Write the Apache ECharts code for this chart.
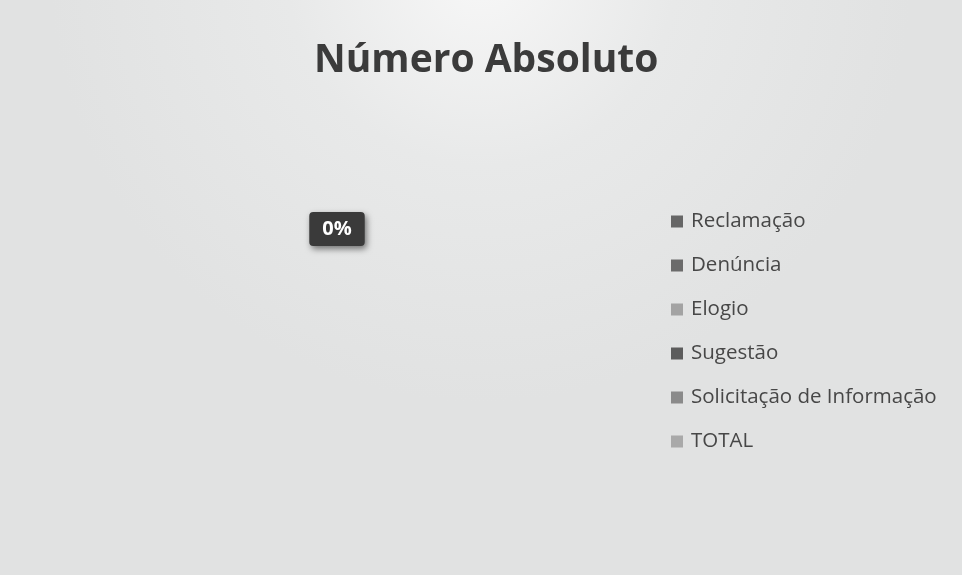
<!DOCTYPE html>
<html>
<head>
<meta charset="utf-8">
<title>Número Absoluto</title>
<script src="https://cdn.jsdelivr.net/npm/echarts@6/dist/echarts.min.js"></script>
<style>
  html, body { margin: 0; padding: 0; background: #e3e4e4; }
  #chart { width: 962px; height: 575px; }
</style>
</head>
<body>
<div id="chart"></div>
<script>
// categorias e valores (todos zerados no original)
var categories = ['Reclamação', 'Denúncia', 'Elogio', 'Sugestão', 'Solicitação de Informação', 'TOTAL'];
var values = [0, 0, 0, 0, 0, 0];
var colors = ['#666666', '#6b6b6b', '#a3a3a3', '#5c5c5c', '#8a8a8a', '#a9a9a9'];

var chartDom = document.getElementById('chart');
var myChart = echarts.init(chartDom);

// somente o primeiro rótulo aparece (os demais ficam sobrepostos)
var pieData = categories.map(function (name, i) {
  var item = { name: name, value: values[i] };
  if (i > 0) item.label = { show: false };
  return item;
});

var option = {
  backgroundColor: new echarts.graphic.RadialGradient(0.5, -0.05, 0.75, [
    { offset: 0, color: '#f7f7f7' },
    { offset: 0.45, color: '#e8e9e9' },
    { offset: 1, color: '#e1e2e2' }
  ]),
  color: colors,
  title: {
    text: 'Número Absoluto',
    left: 314,
    top: 41,
    padding: 0,
    textStyle: {
      fontFamily: 'Open Sans',
      fontSize: 39,
      fontWeight: 'bold',
      color: '#3b3b3b'
    }
  },
  legend: {
    orient: 'vertical',
    left: 671,
    top: 211,
    padding: 0,
    itemWidth: 12,
    itemHeight: 12,
    itemGap: 23,
    icon: 'rect',
    textStyle: {
      fontFamily: 'Open Sans',
      fontSize: 20.5,
      lineHeight: 20,
      color: '#474747',
      padding: [0, 0, 0, 3]
    },
    data: categories
  },
  series: [
    {
      name: 'Número Absoluto',
      type: 'pie',
      center: [337, 304],
      radius: [0, 144],
      startAngle: 90,
      stillShowZeroSum: false,
      showEmptyCircle: false,
      silent: true,
      label: {
        show: true,
        position: 'inside',
        formatter: '{d}%',
        fontFamily: 'Open Sans',
        fontSize: 20,
        fontWeight: 'bold',
        color: '#ffffff',
        backgroundColor: '#3a3a3a',
        borderRadius: 4,
        padding: [7, 13, 7, 13],
        shadowBlur: 6,
        shadowColor: 'rgba(0,0,0,0.5)',
        shadowOffsetX: 2,
        shadowOffsetY: 3
      },
      labelLine: { show: false },
      data: pieData
    }
  ]
};

option && myChart.setOption(option);
</script>
</body>
</html>
